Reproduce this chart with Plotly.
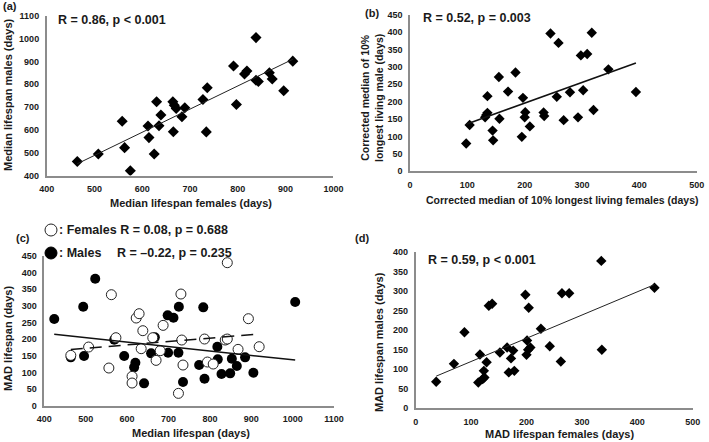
import numpy as np
import plotly.graph_objects as go

W, H = 709, 442
FONT = "Arial, Liberation Sans, sans-serif"
TXT = "#1a1a1a"
AXC = "#8c8c8c"

# ---------------- data ----------------
# (a) median lifespan
a_female = [464, 508, 558, 563, 575, 612, 614, 625, 630, 635, 639, 664, 667, 671, 665, 683, 689,
            727, 736, 734, 791, 797, 814, 819, 838, 838, 843, 866, 872, 896, 915]
a_male = [461, 494, 638, 522, 421, 617, 566, 494, 723, 618, 665, 723, 708, 694, 592, 657, 697,
          733, 784, 591, 880, 711, 845, 858, 1004, 817, 812, 850, 823, 771, 901]

# (b) corrected median of 10% longest living
b_female = [98, 104, 135, 133, 135, 131, 144, 145, 155, 156, 171, 184, 197, 195, 201, 200, 209,
            233, 234, 245, 259, 256, 268, 279, 293, 298, 302, 309, 317, 320, 346, 394]
b_male = [80, 133, 216, 162, 168, 155, 117, 89, 271, 151, 229, 284, 211, 99, 170, 155, 129,
          169, 159, 396, 369, 214, 147, 227, 155, 333, 233, 337, 398, 176, 293, 228]

# (c) MAD lifespan vs median lifespan
c_female_x = [464, 507, 556, 562, 573, 612, 612, 622, 629, 634, 638, 662, 670, 680, 687, 724, 730,
              732, 735, 787, 794, 808, 837, 842, 842, 868, 893, 919]
c_female_y = [151, 176, 113, 333, 204, 88, 68, 263, 276, 171, 225, 204, 136, 165, 241, 37, 335,
              197, 122, 200, 131, 125, 197, 200, 429, 169, 261, 177]
c_male_x = [424, 464, 496, 494, 523, 569, 593, 617, 620, 641, 658, 667, 698, 712, 699, 724, 725,
            735, 774, 784, 787, 818, 819, 828, 849, 853, 865, 885, 905, 1006]
c_male_y = [260, 145, 149, 297, 381, 198, 149, 115, 129, 67, 157, 205, 271, 264, 159, 159, 297,
            71, 122, 295, 81, 177, 139, 95, 97, 141, 119, 145, 99, 311]

# (d) MAD lifespan
d_female = [37, 69, 88, 116, 113, 121, 124, 123, 128, 132, 138, 152, 165, 168, 172, 176, 178,
            198, 200, 203, 201, 204, 207, 226, 242, 262, 264, 277, 335, 336, 431]
d_male = [68, 114, 195, 138, 66, 75, 79, 96, 118, 263, 268, 143, 156, 92, 128, 148, 96,
          291, 137, 150, 174, 258, 156, 204, 159, 120, 295, 295, 378, 150, 309]

# axis settings
a_xticks = [400, 500, 600, 700, 800, 900, 1000]
a_yticks = [400, 500, 600, 700, 800, 900, 1000, 1100]
b_xticks = [0, 100, 200, 300, 400, 500]
b_yticks = [0, 50, 100, 150, 200, 250, 300, 350, 400, 450]
c_xticks = [400, 500, 600, 700, 800, 900, 1000, 1100]
c_yticks = [0, 50, 100, 150, 200, 250, 300, 350, 400, 450]
d_xticks = [0, 100, 200, 300, 400, 500]
d_yticks = [0, 50, 100, 150, 200, 250, 300, 350, 400]


def fit(x, y):
    k, b = np.polyfit(x, y, 1)
    xs = np.array([min(x), max(x)])
    return xs, k * xs + b


def px_x(p):
    return p / W


def px_y(p):
    return 1 - p / H


fig = go.Figure()

# panel a
fig.add_trace(go.Scatter(x=a_female, y=a_male, mode="markers", xaxis="x", yaxis="y",
                         marker=dict(symbol="diamond", size=8.5, color="black")))
xs, ys = fit(a_female, a_male)
fig.add_trace(go.Scatter(x=xs, y=ys, mode="lines", xaxis="x", yaxis="y",
                         line=dict(color="#222", width=1)))

# panel b
fig.add_trace(go.Scatter(x=b_female, y=b_male, mode="markers", xaxis="x2", yaxis="y2",
                         marker=dict(symbol="diamond", size=8, color="black")))
xs, ys = fit(b_female, b_male)
fig.add_trace(go.Scatter(x=xs, y=ys, mode="lines", xaxis="x2", yaxis="y2",
                         line=dict(color="#111", width=1.6)))

# panel c
fig.add_trace(go.Scatter(x=c_male_x, y=c_male_y, mode="markers", xaxis="x3", yaxis="y3",
                         marker=dict(symbol="circle", size=10, color="black")))
fig.add_trace(go.Scatter(x=c_female_x, y=c_female_y, mode="markers", xaxis="x3", yaxis="y3",
                         marker=dict(symbol="circle", size=10, color="white",
                                     line=dict(color="#222", width=1))))
xs, ys = fit(c_male_x, c_male_y)
fig.add_trace(go.Scatter(x=xs, y=ys, mode="lines", xaxis="x3", yaxis="y3",
                         line=dict(color="#111", width=1.5)))
xs, ys = fit(c_female_x, c_female_y)
fig.add_trace(go.Scatter(x=xs, y=ys, mode="lines", xaxis="x3", yaxis="y3",
                         line=dict(color="#111", width=1.5, dash="12px,7px")))

# panel d
fig.add_trace(go.Scatter(x=d_female, y=d_male, mode="markers", xaxis="x4", yaxis="y4",
                         marker=dict(symbol="diamond", size=8, color="black")))
xs, ys = fit(d_female, d_male)
fig.add_trace(go.Scatter(x=xs, y=ys, mode="lines", xaxis="x4", yaxis="y4",
                         line=dict(color="#222", width=1)))


def axis(dom, rng, ticks, anchor):
    return dict(domain=dom, range=rng, tickvals=ticks, anchor=anchor, automargin=False,
                showgrid=False, zeroline=False, showline=True, linecolor=AXC, linewidth=1.5,
                ticks="outside", ticklen=4, tickcolor="rgba(0,0,0,0)",
                tickfont=dict(family=FONT, size=9, color=TXT, weight="bold"),
                fixedrange=True)


layout = dict(
    template="none",
    width=W, height=H, margin=dict(l=0, r=0, t=0, b=0, autoexpand=False),
    paper_bgcolor="white", plot_bgcolor="white", showlegend=False,
    xaxis=axis([px_x(46.7), px_x(333.4)], [400, 1000], a_xticks, "y"),
    yaxis=axis([px_y(175.5), px_y(15.7)], [400, 1100], a_yticks, "x"),
    xaxis2=axis([px_x(410), px_x(696.7)], [0, 500], b_xticks, "y2"),
    yaxis2=axis([px_y(171.3), px_y(14.7)], [0, 450], b_yticks, "x2"),
    xaxis3=axis([px_x(44.3), px_x(334.1)], [400, 1100], c_xticks, "y3"),
    yaxis3=axis([px_y(405.7), px_y(255.7)], [0, 450], c_yticks, "x3"),
    xaxis4=axis([px_x(415.7), px_x(692.7)], [0, 500], d_xticks, "y4"),
    yaxis4=axis([px_y(408.3), px_y(252.3)], [0, 400], d_yticks, "x4"),
)
fig.update_layout(**layout)


def ann(text, x, y, size=11, angle=0, xanchor="center", yanchor="middle"):
    fig.add_annotation(text=text, x=px_x(x), y=px_y(y), xref="paper", yref="paper",
                       showarrow=False, textangle=angle, xanchor=xanchor, yanchor=yanchor,
                       font=dict(family=FONT, size=size, color=TXT))


# axis titles
ann("<b>Median lifespan males (days)</b>", 8, 95, 11, -90)
ann("<b>Median lifespan females (days)</b>", 191, 203, 11)
ann("<b>Corrected median of 10%<br>longest living male (days)</b>", 372, 98, 10.5, -90)
ann("<b>Corrected median of 10% longest living females (days)</b>", 562, 200, 10.5)
ann("<b>MAD lifespan (days)</b>", 8, 339, 11, -90)
ann("<b>Median lifespan (days)</b>", 191, 433, 11)
ann("<b>MAD lifespan males (days)</b>", 379, 342, 11, -90)
ann("<b>MAD lifespan females (days)</b>", 559, 434, 11)

# panel labels
ann("<b>(a)</b>", 1, 6, 11, xanchor="left")
ann("<b>(b)</b>", 363, 13, 11, xanchor="left")
ann("<b>(c)</b>", 14, 238, 11, xanchor="left")
ann("<b>(d)</b>", 353, 238, 11, xanchor="left")

# statistics
ann("<b>R = 0.86, p < 0.001</b>", 56, 20, 12.5, xanchor="left")
ann("<b>R = 0.52, p = 0.003</b>", 421, 18, 12.5, xanchor="left")
ann("<b>R = 0.59, p < 0.001</b>", 426, 260, 12.5, xanchor="left")
ann("<b>: Females R = 0.08, p = 0.688</b>", 57, 230, 12.5, xanchor="left")
ann("<b>: Males</b>", 57, 253, 12.5, xanchor="left")
ann("<b>R = –0.22, p = 0.235</b>", 115, 253, 12.5, xanchor="left")

# legend symbols for panel (c)
fig.add_shape(type="circle", xref="paper", yref="paper",
              x0=px_x(45), x1=px_x(57), y0=px_y(236), y1=px_y(224),
              line=dict(color="#222", width=1), fillcolor="white")
fig.add_shape(type="circle", xref="paper", yref="paper",
              x0=px_x(45), x1=px_x(57), y0=px_y(259), y1=px_y(247),
              line=dict(color="black", width=1), fillcolor="black")

fig.write_html("out.html", config={"displayModeBar": False},
               post_script="document.body.style.margin='0';document.body.style.overflow='hidden';")
